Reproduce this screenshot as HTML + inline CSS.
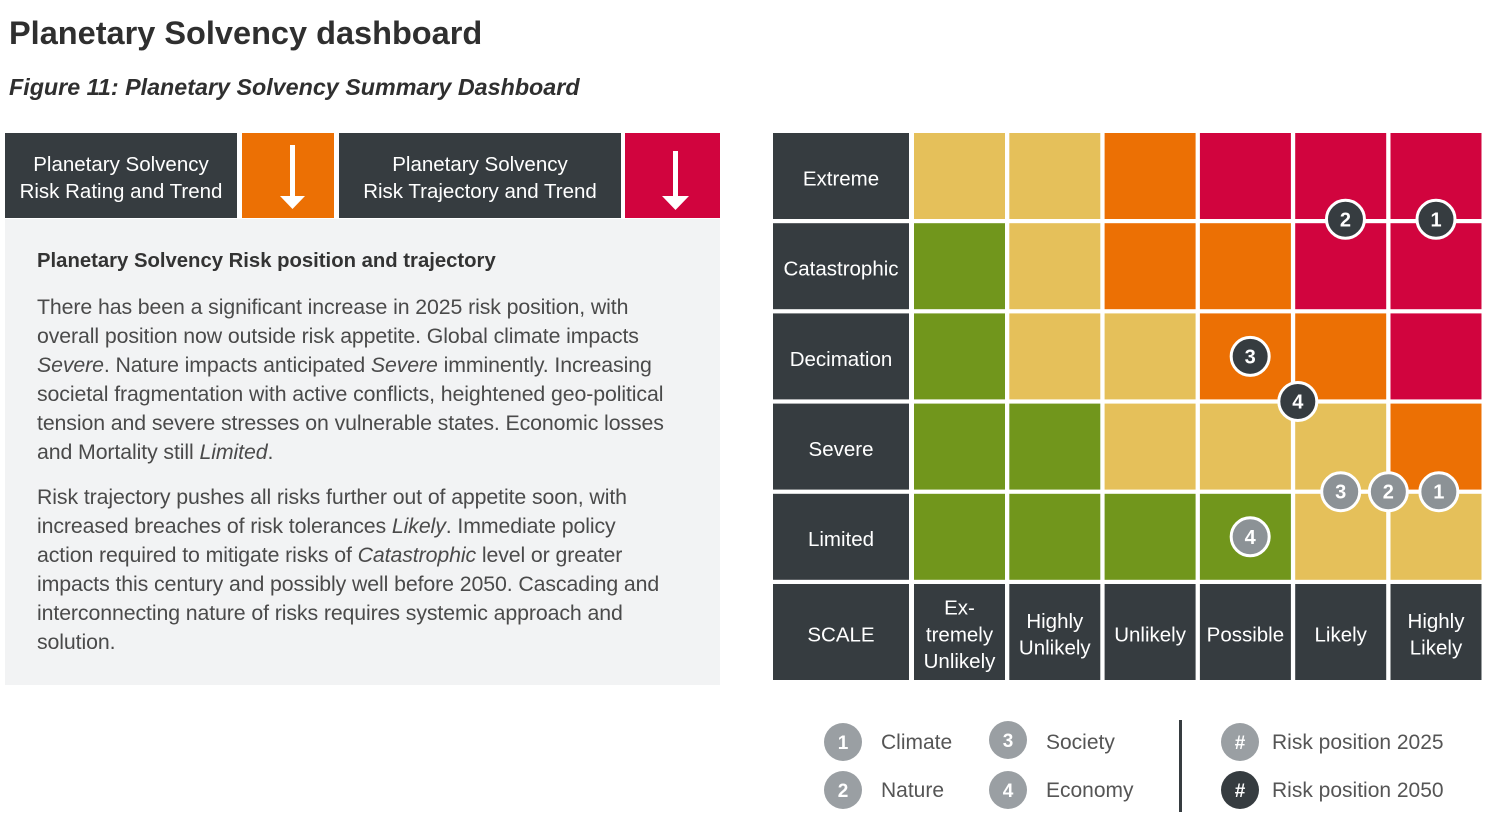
<!DOCTYPE html>
<html><head><meta charset="utf-8">
<style>
body{margin:0;width:1491px;height:826px;background:#fff;font-family:"Liberation Sans",sans-serif;position:relative;overflow:hidden;color:#333}
.a{position:absolute}
.hdr{background:#363c40;color:#fff;font-size:20.5px;line-height:27px;text-align:center;display:flex;align-items:center;justify-content:center;top:133px;height:85px;padding-top:4px;box-sizing:border-box}
.para{font-size:21.3px;line-height:29px;color:#4a4a4a;white-space:nowrap;letter-spacing:-0.1px}
.lt{font-size:21px;color:#555;white-space:nowrap}
</style></head><body>
<div class="a" style="left:9px;top:15px;font-size:32.5px;font-weight:bold;color:#2f2f2f">Planetary Solvency dashboard</div>
<div class="a" style="left:9px;top:74px;font-size:23.3px;font-weight:bold;font-style:italic;color:#2f2f2f">Figure 11: Planetary Solvency Summary Dashboard</div>

<div class="a hdr" style="left:5px;width:232px">Planetary Solvency<br>Risk Rating and Trend</div>
<div class="a" style="left:242px;top:133px;width:92px;height:85px;background:#ec7004">
<svg width="92" height="85"><rect x="48" y="12" width="5" height="53" fill="#fff"/><polygon points="38,63 63,63 50.5,76" fill="#fff"/></svg></div>
<div class="a hdr" style="left:339px;width:282px">Planetary Solvency<br>Risk Trajectory and Trend</div>
<div class="a" style="left:625px;top:133px;width:95px;height:85px;background:#d1043e">
<svg width="95" height="85"><rect x="48" y="18" width="5" height="48" fill="#fff"/><polygon points="37,63 64,63 50.5,77" fill="#fff"/></svg></div>

<div class="a" style="left:5px;top:219px;width:715px;height:466px;background:#f2f3f4"></div>
<div class="a" style="left:37px;top:250px;font-size:20.3px;font-weight:bold;color:#333">Planetary Solvency Risk position and trajectory</div>
<div class="a para" style="left:37px;top:293px">There has been a significant increase in 2025 risk position, with<br>overall position now outside risk appetite. Global climate impacts<br><i>Severe</i>. Nature impacts anticipated <i>Severe</i> imminently. Increasing<br>societal fragmentation with active conflicts, heightened geo-political<br>tension and severe stresses on vulnerable states. Economic losses<br>and Mortality still <i>Limited</i>.</div>
<div class="a para" style="left:37px;top:483px">Risk trajectory pushes all risks further out of appetite soon, with<br>increased breaches of risk tolerances <i>Likely</i>. Immediate policy<br>action required to mitigate risks of <i>Catastrophic</i> level or greater<br>impacts this century and possibly well before 2050. Cascading and<br>interconnecting nature of risks requires systemic approach and<br>solution.</div>

<svg class="a" id="matrix" style="left:0;top:0" width="1491" height="700"></svg>

<div>
<svg class="a" style="left:0;top:700px" width="1491" height="126">
<g><circle cx="843" cy="42" r="19" fill="#9a9fa3"/><text x="843" y="49" fill="#fff" font-size="19" font-weight="bold" text-anchor="middle" font-family="Liberation Sans">1</text></g>
<g><circle cx="843" cy="90" r="19" fill="#9a9fa3"/><text x="843" y="97" fill="#fff" font-size="19" font-weight="bold" text-anchor="middle" font-family="Liberation Sans">2</text></g>
<g><circle cx="1008" cy="40" r="19" fill="#9a9fa3"/><text x="1008" y="47" fill="#fff" font-size="19" font-weight="bold" text-anchor="middle" font-family="Liberation Sans">3</text></g>
<g><circle cx="1008" cy="90" r="19" fill="#9a9fa3"/><text x="1008" y="97" fill="#fff" font-size="19" font-weight="bold" text-anchor="middle" font-family="Liberation Sans">4</text></g>
<rect x="1179" y="20" width="3" height="92" fill="#363c40"/>
<g><circle cx="1240" cy="42" r="19" fill="#9a9fa3"/><text x="1240" y="49" fill="#fff" font-size="19" font-weight="bold" text-anchor="middle" font-family="Liberation Sans">#</text></g>
<g><circle cx="1240" cy="90" r="19" fill="#363c40"/><text x="1240" y="97" fill="#fff" font-size="19" font-weight="bold" text-anchor="middle" font-family="Liberation Sans">#</text></g>
</svg>
<div class="a lt" style="left:881px;top:731px">Climate</div>
<div class="a lt" style="left:881px;top:779px">Nature</div>
<div class="a lt" style="left:1046px;top:731px">Society</div>
<div class="a lt" style="left:1046px;top:779px">Economy</div>
<div class="a lt" style="left:1272px;top:731px">Risk position 2025</div>
<div class="a lt" style="left:1272px;top:779px">Risk position 2050</div>
</div>

<script>
const impactLabels = ["Extreme","Catastrophic","Decimation","Severe","Limited"];
const likelihoodLabels = [["Ex-","tremely","Unlikely"],["Highly","Unlikely"],["Unlikely"],["Possible"],["Likely"],["Highly","Likely"]];
const cellGrid = [
 "YYORRR",
 "GYOORR",
 "GYYOOR",
 "GGYYYO",
 "GGGGYY"];
const riskIds = ["1","2","3","4"];
const likelihood2025 = [5.03, 4.5, 4, 3.05];
const impact2025 = [3.5, 3.5, 3.5, 4];
const likelihood2050 = [5, 4.05, 3.05, 3.55];
const impact2050 = [0.48, 0.48, 2, 2.5];

const colors = {Y:"#e5c05a",O:"#ec7004",R:"#d1043e",G:"#71961c"};
const NS = "http://www.w3.org/2000/svg";
const svg = document.getElementById("matrix");
const x0 = 914, cw = 95.3, y0 = 133, rh = 90.2;
function colX(i){return x0 + i*cw;}
function rowY(j){return y0 + j*rh;}
function cx(v){return colX(v) + 45.5;}
function cy(v){return rowY(v) + 43;}
function mk(tag, attrs){const e=document.createElementNS(NS,tag);for(const k in attrs)e.setAttribute(k,attrs[k]);svg.appendChild(e);return e;}
function txt(lines, x, ycenter, size){
  const lh = size*1.3;
  const t = mk("text",{x:x,"text-anchor":"middle",fill:"#fff","font-size":size,"font-family":"Liberation Sans"});
  lines.forEach((l,i)=>{const s=document.createElementNS(NS,"tspan");s.setAttribute("x",x);s.setAttribute("y",ycenter - (lines.length-1)*lh/2 + i*lh + size*0.36);s.textContent=l;t.appendChild(s);});
  return t;
}
impactLabels.forEach((lab,j)=>{
  const r = mk("rect",{x:773,y:rowY(j),width:136,height:86,fill:"#363c40"});
  
  
  txt([lab], 841, rowY(j)+45, 20.5);
  cellGrid[j].split("").forEach((c,i)=>{
    const cell = mk("rect",{x:colX(i),y:rowY(j),width:91,height:86,fill:colors[c]});
    
    
  });
});
const sy = rowY(5);
const sc = mk("rect",{x:773,y:sy,width:136,height:96,fill:"#363c40"});


txt(["SCALE"],841,sy+50,20.5);
likelihoodLabels.forEach((l,i)=>{
  const r = mk("rect",{x:colX(i),y:sy,width:91,height:96,fill:"#363c40"});
  
  
  txt(l, colX(i)+45.5, sy+50, 20.5);
});
function marker(l, im, id, fill, name){
  const g = document.createElementNS(NS,"g");
  
  
  const c = document.createElementNS(NS,"circle");
  c.setAttribute("cx",cx(l));c.setAttribute("cy",cy(im));c.setAttribute("r",19);
  c.setAttribute("fill",fill);c.setAttribute("stroke","#fff");c.setAttribute("stroke-width",3);
  g.appendChild(c);
  const t = document.createElementNS(NS,"text");
  t.setAttribute("x",cx(l));t.setAttribute("y",cy(im)+7);t.setAttribute("text-anchor","middle");
  t.setAttribute("fill","#fff");t.setAttribute("font-size",20);t.setAttribute("font-weight","bold");t.setAttribute("font-family","Liberation Sans");
  t.textContent = id; g.appendChild(t);
  svg.appendChild(g);
}
riskIds.forEach((id,k)=>marker(likelihood2025[k], impact2025[k], id, "#8c9296", 'marker-2025-risk-'+id));
riskIds.forEach((id,k)=>marker(likelihood2050[k], impact2050[k], id, "#363c40", 'marker-2050-risk-'+id));
</script>
</body></html>
